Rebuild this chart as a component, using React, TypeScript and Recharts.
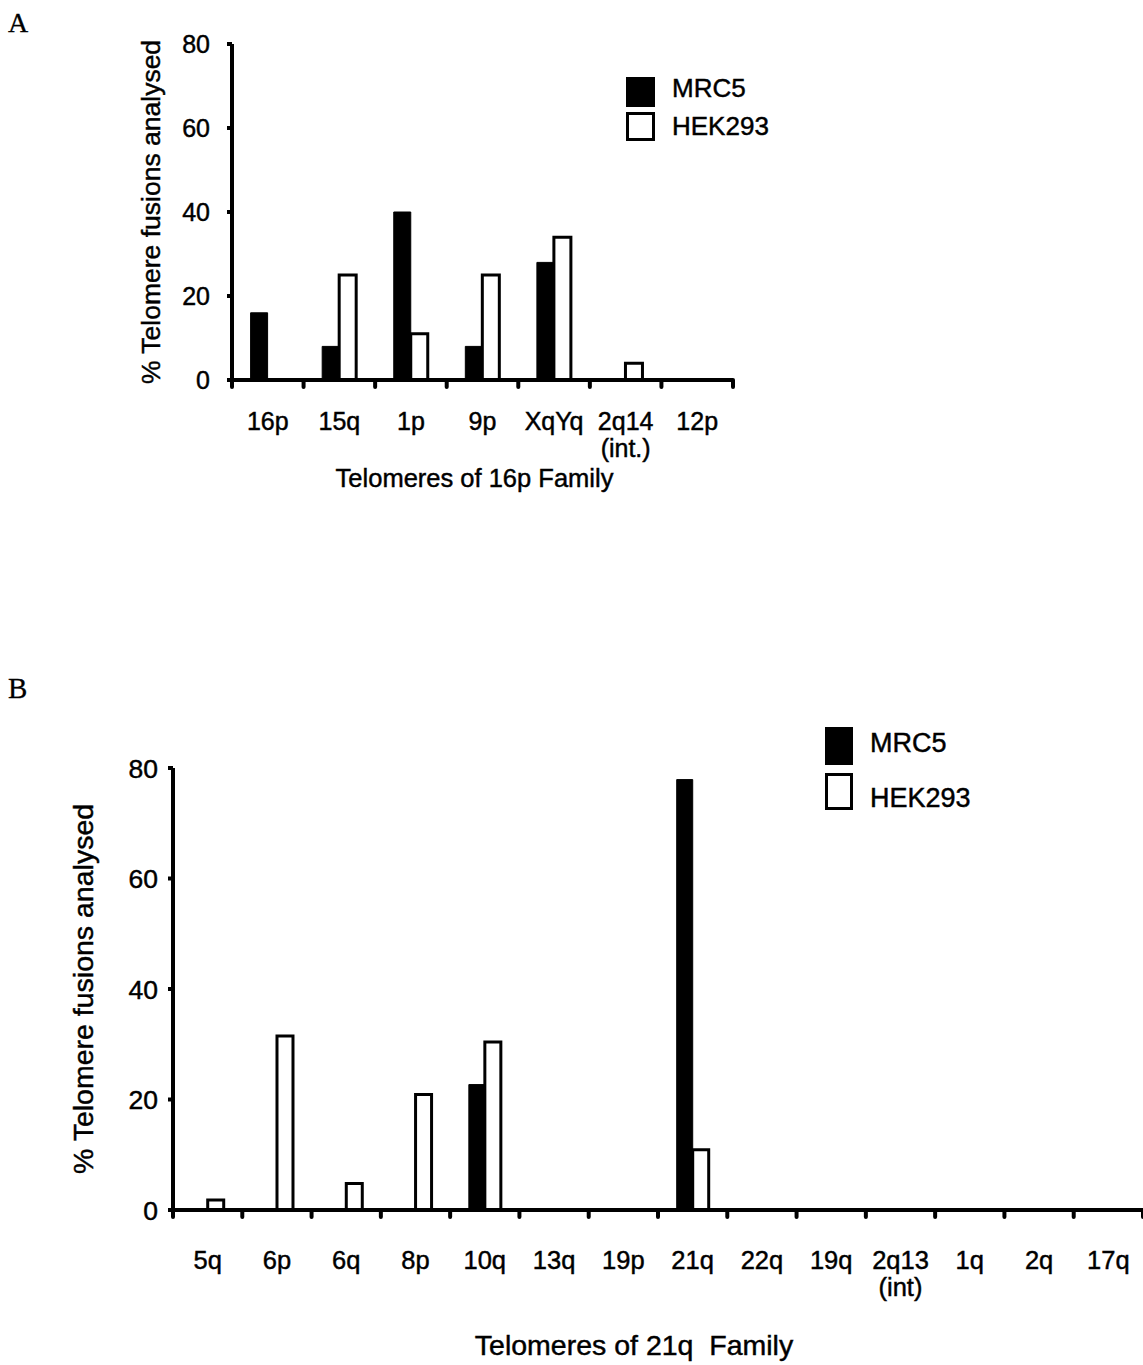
import React from 'react';
import { BarChart, Bar, XAxis, YAxis, Legend } from 'recharts';

const SANS = '"Liberation Sans", Arial, Helvetica, sans-serif';
const SERIF = '"Liberation Serif", "Times New Roman", serif';
const HEAVY = 0.45;

// ---------- Data: Panel A (Telomeres of 16p family) ----------
const categoriesA = ['16p', '15q', '1p', '9p', 'XqYq', '2q14\n(int.)', '12p'];
const mrc5A = [16, 8, 40, 8, 28, 0, 0];
const hek293A = [0, 25, 11, 25, 34, 4, 0];

// ---------- Data: Panel B (Telomeres of 21q family) ----------
const categoriesB = ['5q', '6p', '6q', '8p', '10q', '13q', '19p', '21q', '22q', '19q', '2q13\n(int)', '1q', '2q', '17q'];
const mrc5B = [0, 0, 0, 0, 22.7, 0, 0, 77.9, 0, 0, 0, 0, 0, 0];
const hek293B = [1.8, 31.5, 4.8, 20.9, 30.4, 0, 0, 10.9, 0, 0, 0, 0, 0, 0];

const yTicks = [0, 20, 40, 60, 80];
const seriesNames = ['MRC5', 'HEK293'];
const yLabel = '% Telomere fusions analysed';
const xTitleA = 'Telomeres of 16p Family';
const xTitleB = 'Telomeres of 21q  Family';

const makeRows = (cats: string[], a: number[], b: number[]) =>
  cats.map((c, i) => ({ name: c, [seriesNames[0]]: a[i], [seriesNames[1]]: b[i] }));

const dataA = makeRows(categoriesA, mrc5A, hek293A);
const dataB = makeRows(categoriesB, mrc5B, hek293B);

const CategoryTick = (props: any) => {
  const { x, y, payload, width, visibleTicksCount, index, fs, labelDy, lineH, tickLen } = props;
  const half =
    payload && typeof payload.offset === 'number' && payload.offset > 0
      ? payload.offset
      : width / visibleTicksCount / 2;
  const lines = String(payload.value).split('\n');
  return (
    <g>
      <line x1={x - half} x2={x - half} y1={y} y2={y + tickLen} stroke="#000" strokeWidth={4} strokeLinecap="round" />
      {index === visibleTicksCount - 1 && (
        <line x1={x + half} x2={x + half} y1={y} y2={y + tickLen} stroke="#000" strokeWidth={4} strokeLinecap="round" />
      )}
      <text
        x={x}
        y={y + labelDy}
        textAnchor="middle"
        fontSize={fs}
        fontFamily={SANS}
        fill="#000"
        stroke="#000"
        strokeWidth={HEAVY}
      >
        {lines.map((l, i) => (
          <tspan key={i} x={x} dy={i === 0 ? 0 : lineH}>
            {l}
          </tspan>
        ))}
      </text>
    </g>
  );
};

const ValueTick = (props: any) => {
  const { x, y, payload, fs } = props;
  return (
    <text
      x={x}
      y={y}
      dy="0.36em"
      textAnchor="end"
      fontSize={fs}
      fontFamily={SANS}
      fill="#000"
      stroke="#000"
      strokeWidth={HEAVY}
    >
      {payload.value}
    </text>
  );
};

const makeLegend = (cfg: any) => (props: any) => {
  const items = [...(props.payload || [])].sort(
    (a: any, b: any) => seriesNames.indexOf(a.value) - seriesNames.indexOf(b.value)
  );
  return (
    <svg width={cfg.w} height={cfg.h} style={{ display: 'block', overflow: 'visible' }}>
      {items.map((it: any, i: number) => (
        <g key={i}>
          <rect
            x={cfg.rects[i][0]}
            y={cfg.rects[i][1]}
            width={cfg.rects[i][2]}
            height={cfg.rects[i][3]}
            fill={it.color}
            stroke="#000"
            strokeWidth={3}
          />
          <text
            x={cfg.tx}
            y={cfg.base[i]}
            fontSize={cfg.fs}
            fontFamily={SANS}
            fill="#000"
            stroke="#000"
            strokeWidth={HEAVY}
          >
            {it.value}
          </text>
        </g>
      ))}
    </svg>
  );
};

const legendA = { w: 200, h: 70, fs: 26, tx: 48, base: [22, 60], rects: [[3.5, 3.5, 26, 27], [3.5, 38.5, 26, 26]] };
const legendB = { w: 200, h: 90, fs: 27, tx: 47, base: [27, 82], rects: [[3.5, 3.5, 25, 35], [3.5, 49.5, 25, 34]] };

const yLabelContent = (xPos: number, fs: number, text: string) => (p: any) => {
  const vb = p.viewBox || {};
  const cy = vb.y + vb.height / 2;
  return (
    <text
      transform={`translate(${xPos},${cy}) rotate(-90)`}
      textAnchor="middle"
      fontSize={fs}
      fontFamily={SANS}
      fill="#000"
      stroke="#000"
      strokeWidth={HEAVY}
    >
      {text}
    </text>
  );
};

const xTitleContent = (dy: number, dx: number, fs: number, text: string) => (p: any) => {
  const vb = p.viewBox || {};
  return (
    <text
      x={vb.x + vb.width / 2 + dx}
      y={vb.y + dy}
      textAnchor="middle"
      fontSize={fs}
      fontFamily={SANS}
      fill="#000"
      stroke="#000"
      strokeWidth={HEAVY}
      style={{ whiteSpace: 'pre' }}
    >
      {text}
    </text>
  );
};

export default function App() {
  return (
    <div
      style={{
        position: 'absolute',
        left: 0,
        top: 0,
        width: 1143,
        height: 1365,
        overflow: 'hidden',
        background: '#fff',
      }}
    >
      {/* Panel A */}
      <div style={{ position: 'absolute', left: 0, top: 0 }}>
        <BarChart
          width={760}
          height={520}
          data={dataA}
          margin={{ top: 44, right: 27, left: 0, bottom: 0 }}
          barGap={0}
          barCategoryGap="26%"
        >
          <Bar dataKey="MRC5" name="MRC5" fill="#000" stroke="#000" strokeWidth={1} isAnimationActive={false} />
          <Bar dataKey="HEK293" name="HEK293" fill="#fff" stroke="#000" strokeWidth={3} isAnimationActive={false} />
          <XAxis
            dataKey="name"
            type="category"
            height={140}
            axisLine={{ stroke: '#000', strokeWidth: 4 }}
            tickLine={false}
            tickSize={0}
            tickMargin={0}
            interval={0}
            tick={(p: any) => <CategoryTick {...p} fs={25} labelDy={50} lineH={27} tickLen={7} />}
            label={{ content: xTitleContent(107, -8, 25.5, xTitleA) }}
          />
          <YAxis
            type="number"
            domain={[0, 80]}
            ticks={yTicks}
            width={232}
            axisLine={{ stroke: '#000', strokeWidth: 4 }}
            tickLine={{ stroke: '#000', strokeWidth: 4 }}
            tickSize={5}
            tickMargin={17}
            tick={(p: any) => <ValueTick {...p} fs={25} />}
            label={{ content: yLabelContent(160, 26.5, yLabel) }}
          />
          <Legend
            layout="vertical"
            align="center"
            verticalAlign="middle"
            content={makeLegend(legendA)}
            wrapperStyle={{ position: 'absolute', left: 624, top: 75, width: 200, height: 70 }}
          />
        </BarChart>
      </div>

      {/* Panel B */}
      <div style={{ position: 'absolute', left: 0, top: 680 }}>
        <BarChart
          width={1143}
          height={685}
          data={dataB}
          margin={{ top: 88, right: 0, left: 0, bottom: 0 }}
          barGap={0}
          barCategoryGap="27%"
        >
          <Bar dataKey="MRC5" name="MRC5" fill="#000" stroke="#000" strokeWidth={1} isAnimationActive={false} />
          <Bar dataKey="HEK293" name="HEK293" fill="#fff" stroke="#000" strokeWidth={3} isAnimationActive={false} />
          <XAxis
            dataKey="name"
            type="category"
            height={155}
            axisLine={{ stroke: '#000', strokeWidth: 4 }}
            tickLine={false}
            tickSize={0}
            tickMargin={0}
            interval={0}
            tick={(p: any) => <CategoryTick {...p} fs={25.5} labelDy={59} lineH={27} tickLen={7} />}
            label={{ content: xTitleContent(145, -24, 28.5, xTitleB) }}
          />
          <YAxis
            type="number"
            domain={[0, 80]}
            ticks={yTicks}
            width={173}
            axisLine={{ stroke: '#000', strokeWidth: 4 }}
            tickLine={{ stroke: '#000', strokeWidth: 4 }}
            tickSize={5}
            tickMargin={10}
            tick={(p: any) => <ValueTick {...p} fs={26.5} />}
            label={{ content: yLabelContent(93, 28.5, yLabel) }}
          />
          <Legend
            layout="vertical"
            align="center"
            verticalAlign="middle"
            content={makeLegend(legendB)}
            wrapperStyle={{ position: 'absolute', left: 823, top: 45, width: 200, height: 90 }}
          />
        </BarChart>
      </div>

      {/* Panel letters */}
      <svg
        width={1143}
        height={1365}
        style={{ position: 'absolute', left: 0, top: 0, pointerEvents: 'none' }}
      >
        <text x={8} y={32} fontSize={28} fontFamily={SERIF} fill="#000" stroke="#000" strokeWidth={0.3}>
          A
        </text>
        <text x={8} y={698} fontSize={29} fontFamily={SERIF} fill="#000" stroke="#000" strokeWidth={0.3}>
          B
        </text>
      </svg>
    </div>
  );
}
